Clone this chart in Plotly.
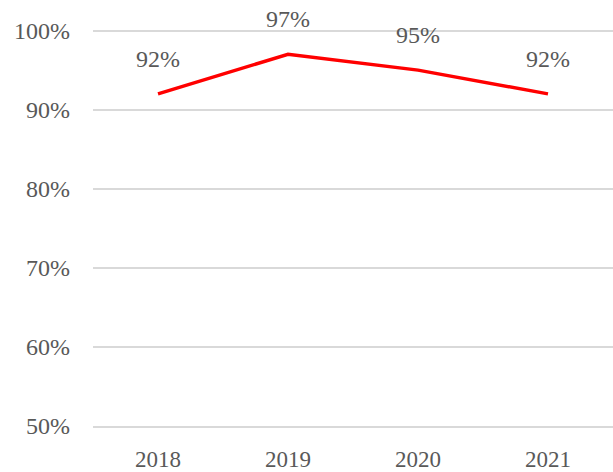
import plotly.graph_objects as go

# data
years = ["2018", "2019", "2020", "2021"]
rates = [92, 97, 95, 92]
y_ticks = [50, 60, 70, 80, 90, 100]
y_tick_labels = ["50%", "60%", "70%", "80%", "90%", "100%"]

grey = "#595959"
grid = "#D9D9D9"
font_family = "Liberation Serif"

fig = go.Figure()
fig.add_trace(go.Scatter(
    x=years, y=rates, mode="lines",
    line=dict(color="#FF0000", width=3.5),
    hoverinfo="skip", showlegend=False,
))
# data labels above each point (invisible marker pushes the text up)
fig.add_trace(go.Scatter(
    x=years, y=rates, mode="markers+text",
    text=[f"{v}%" for v in rates], textposition="top center",
    textfont=dict(size=24, color=grey, family=font_family),
    marker=dict(size=32, color="rgba(0,0,0,0)"),
    cliponaxis=False, hoverinfo="skip", showlegend=False,
))

fig.update_layout(
    width=613, height=472,
    margin=dict(l=93, r=0, t=29, b=44),
    plot_bgcolor="white", paper_bgcolor="white",
    font=dict(family=font_family, size=23, color=grey),
)
fig.update_xaxes(
    type="category", range=[-0.5, 3.5],
    showgrid=False, showline=True, linecolor=grid, linewidth=1.5,
    ticks="", ticklabelstandoff=12,
)
fig.update_yaxes(
    range=[50, 100.2], tickvals=y_ticks, ticktext=y_tick_labels,
    showgrid=True, gridcolor=grid, gridwidth=1.5,
    zeroline=False, showline=False, ticks="", ticklabelstandoff=22,
    tickfont=dict(size=24),
)

fig.write_html("out.html", config={"displayModeBar": False},
               post_script="document.body.style.margin='0';")
